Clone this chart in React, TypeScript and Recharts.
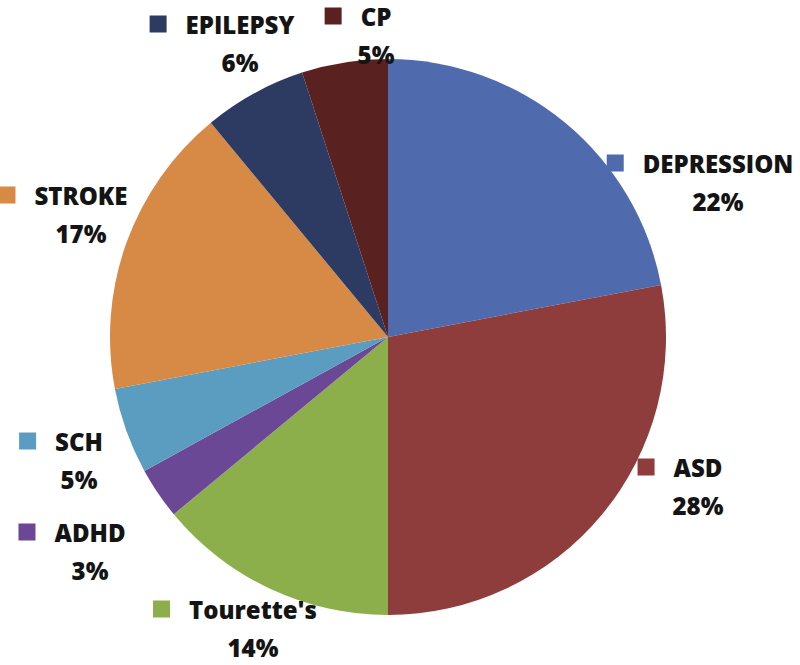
import React, { useEffect } from 'react';
import { PieChart, Pie, Cell } from 'recharts';

const CATEGORIES = ['DEPRESSION', 'ASD', "Tourette's", 'ADHD', 'SCH', 'STROKE', 'EPILEPSY', 'CP'];
const SHARES = [22, 28, 14, 3, 5, 17, 6, 5];
const COLORS = ['#4F6BAE', '#8E3C3C', '#8DAF4B', '#6A4896', '#5A9DC1', '#D68A45', '#2D3B63', '#5A2121'];

// where each label block sits, relative to the pie centre
const LABEL_OFFSETS = [
    { dx: 330, dy: -174 },
    { dx: 310, dy: 130 },
    { dx: -135, dy: 272 },
    { dx: -298, dy: 195 },
    { dx: -309, dy: 104 },
    { dx: -307, dy: -142 },
    { dx: -148, dy: -313 },
    { dx: -12, dy: -321 },
];

const FONT = '"Open Sans", sans-serif';
const FONT_SIZE = 24;
const FONT_WEIGHT = 800;

const data = CATEGORIES.map((name, i) => ({ name, value: SHARES[i] }));

let ctx: CanvasRenderingContext2D | null = null;
function textWidth(s: string) {
    if (!ctx) ctx = document.createElement('canvas').getContext('2d');
    if (!ctx) return s.length * FONT_SIZE * 0.65;
    ctx.font = `${FONT_WEIGHT} ${FONT_SIZE}px ${FONT}`;
    return ctx.measureText(s).width;
}

function renderLabel(props: any) {
    const { cx, cy, index, name, value } = props;
    const off = LABEL_OFFSETS[index];
    const x = cx + off.dx;
    const y = cy + off.dy;
    const w = textWidth(name);
    const sq = 17;
    return (
        <g key={`lbl-${index}`}>
            <rect x={x - w / 2 - 19 - sq} y={y - sq / 2} width={sq} height={sq} fill={COLORS[index]} />
            <text x={x} y={y} textAnchor="middle" dominantBaseline="central"
                fontFamily={FONT} fontWeight={FONT_WEIGHT} fontSize={FONT_SIZE} fill="#141414">
                {name}
            </text>
            <text x={x} y={y + 38} textAnchor="middle" dominantBaseline="central"
                fontFamily={FONT} fontWeight={FONT_WEIGHT} fontSize={FONT_SIZE} fill="#141414">
                {`${value}%`}
            </text>
        </g>
    );
}

export default function App() {
    useEffect(() => {
        document.body.style.margin = '0';
    }, []);

    return (
        <div style={{ width: 800, height: 665, background: '#fff' }}>
            <PieChart width={800} height={665} margin={{ top: 0, right: 0, bottom: 0, left: 0 }}>
                <Pie
                    data={data}
                    dataKey="value"
                    nameKey="name"
                    cx={388}
                    cy={337}
                    outerRadius={278}
                    startAngle={90}
                    endAngle={-270}
                    stroke="none"
                    labelLine={false}
                    label={renderLabel}
                    isAnimationActive={false}
                >
                    {data.map((entry, index) => (
                        <Cell key={`cell-${index}`} fill={COLORS[index]} />
                    ))}
                </Pie>
            </PieChart>
        </div>
    );
}
